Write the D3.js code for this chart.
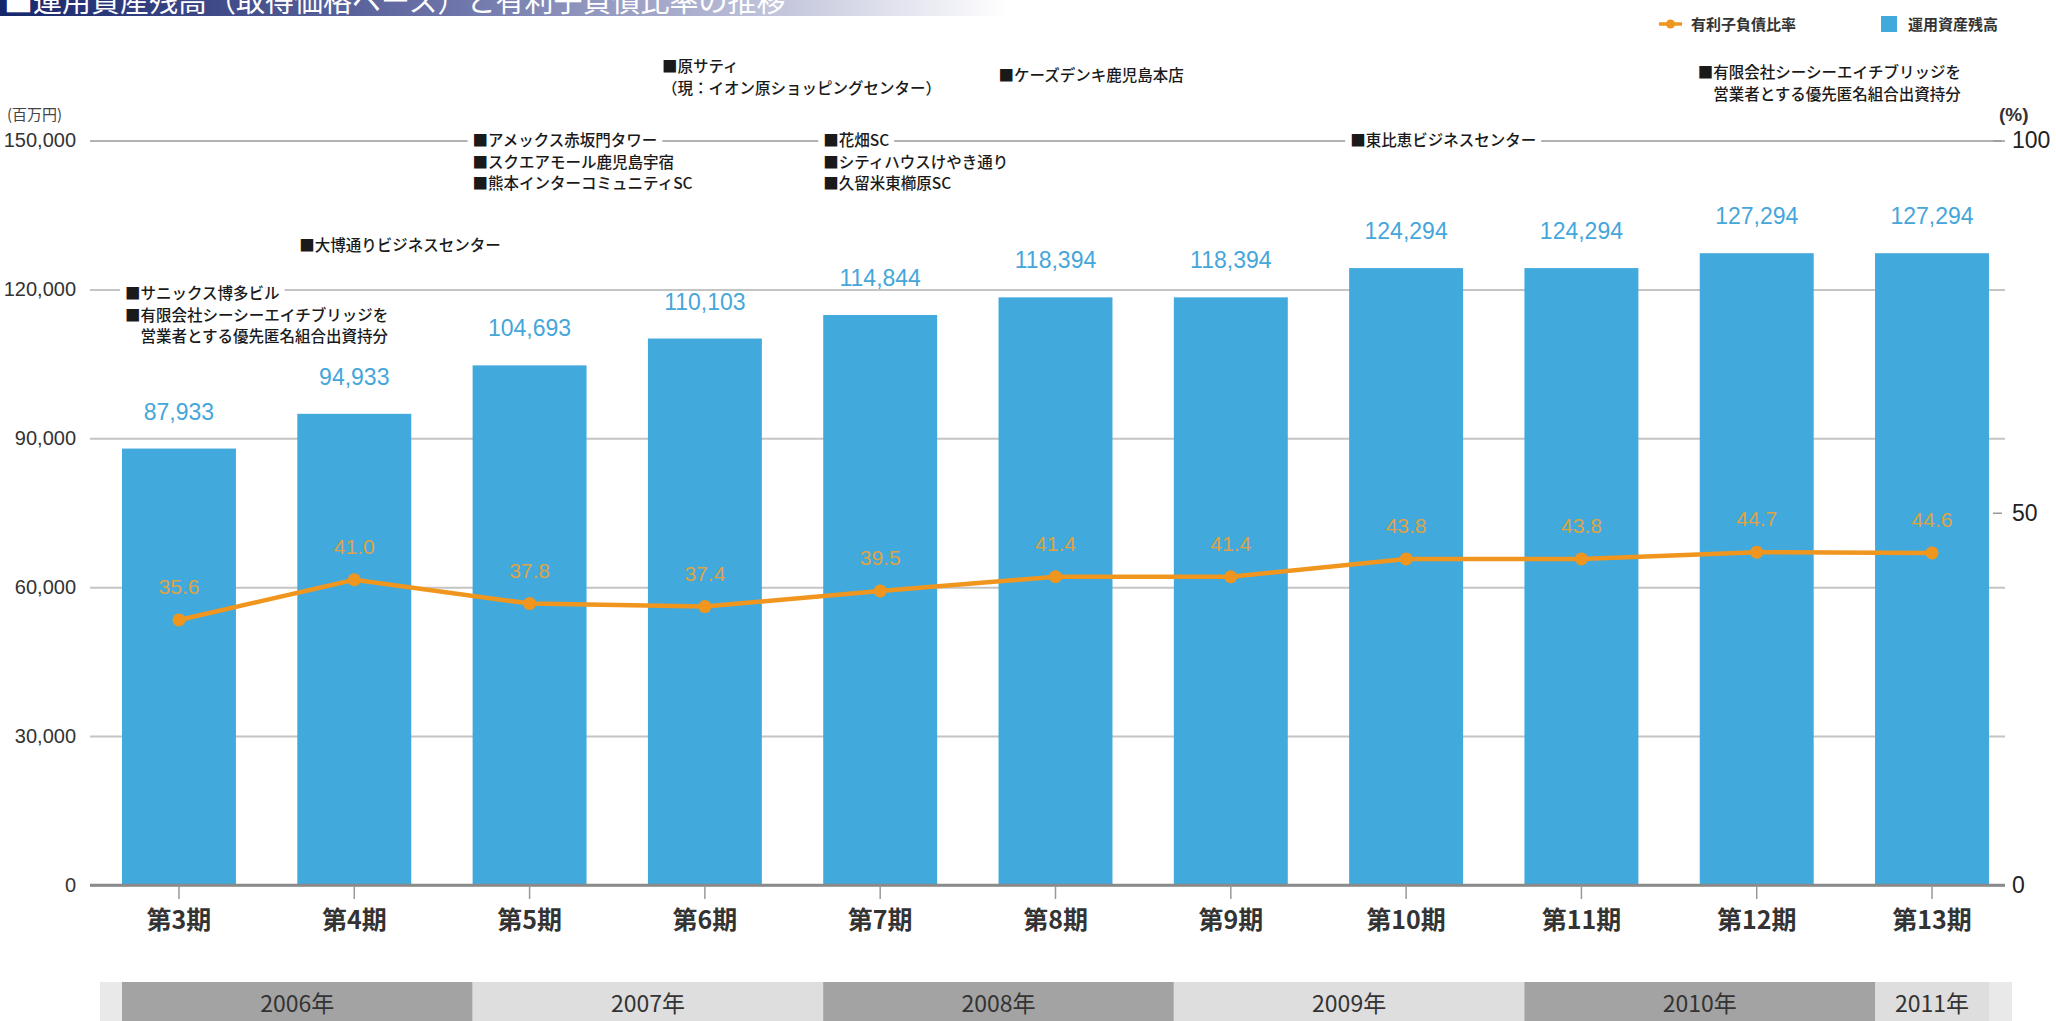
<!DOCTYPE html>
<html>
<head>
<meta charset="utf-8">
<script src="https://cdn.jsdelivr.net/npm/d3@7"></script>
<style>
  body { margin: 0; background: #fff; overflow: hidden; }
  svg { display: block; }
  .jp { font-family: "Noto Sans CJK JP", "Noto Sans", sans-serif; }
  .num { font-family: "Liberation Sans", Arial, sans-serif; }
</style>
</head>
<body>
<div id="chart"></div>
<script>
// data
var periods = ["第3期", "第4期", "第5期", "第6期", "第7期", "第8期", "第9期", "第10期", "第11期", "第12期", "第13期"];
var assets = [87933, 94933, 104693, 110103, 114844, 118394, 118394, 124294, 124294, 127294, 127294];
var debtRatio = [35.6, 41.0, 37.8, 37.4, 39.5, 41.4, 41.4, 43.8, 43.8, 44.7, 44.6];
var leftTicks = [0, 30000, 60000, 90000, 120000, 150000];
var rightTicks = [0, 50, 100];
var years = ["2006年", "2007年", "2008年", "2009年", "2010年", "2011年"];
var yearFirst = [0, 2, 4, 6, 8, 10];   // first period of each year
var yearLast = [1, 3, 5, 7, 9, 10];    // last period of each year
var acqPeriods = [0, 1, 2, 3, 4, 5, 7, 9];
var acqNames = [
    ["■サニックス博多ビル", "■有限会社シーシーエイチブリッジを", "　営業者とする優先匿名組合出資持分"],
    ["■大博通りビジネスセンター"],
    ["■アメックス赤坂門タワー", "■スクエアモール鹿児島宇宿", "■熊本インターコミュニティSC"],
    ["■原サティ", "（現：イオン原ショッピングセンター）"],
    ["■花畑SC", "■シティハウスけやき通り", "■久留米東櫛原SC"],
    ["■ケーズデンキ鹿児島本店"],
    ["■東比恵ビジネスセンター"],
    ["■有限会社シーシーエイチブリッジを", "　営業者とする優先匿名組合出資持分"]
];
var title = "■運用資産残高（取得価格ベース）と有利子負債比率の推移";

// layout of the annotation blocks (baseline of first row, shift from bar edge)
var acqTop = [299, 251, 146, 72, 146, 81, 146, 78];
var acqDx = [3, 2, 0, 14, 0, 0, 1, -2];

var blue = "#42a9dd", orange = "#f0961e";

function createChart(divId) {
    var w = 2056, h = 1021;
    var svg = d3.select(divId).append("svg")
        .attr("width", w)
        .attr("height", h);

    var x = d3.scaleBand()
        .domain(periods)
        .range([122, 1989])
        .paddingInner(0.35)
        .paddingOuter(0);

    var y = d3.scaleLinear().domain([0, 150000]).range([885, 140.5]);
    var y2 = d3.scaleLinear().domain([0, 100]).range([885, 140.5]);

    var gridL = 90, gridR = 2005;

    // title bar
    var grad = svg.append("defs").append("linearGradient")
        .attr("id", "tgrad");
    grad.append("stop").attr("offset", 0).attr("stop-color", "#16266b");
    grad.append("stop").attr("offset", 0.45).attr("stop-color", "#6d74a9");
    grad.append("stop").attr("offset", 1).attr("stop-color", "#ffffff");
    svg.append("rect")
        .attr("x", 0).attr("y", 0)
        .attr("width", 1010).attr("height", 16)
        .attr("fill", "url(#tgrad)");
    svg.append("text")
        .attr("class", "jp")
        .attr("x", 4).attr("y", 12)
        .attr("fill", "#fff")
        .style("font-size", "29px")
        .text(title);

    // left axis + grid
    var gl = svg.append("g")
        .attr("transform", "translate(" + gridL + ",0)")
        .call(d3.axisLeft(y).tickValues(leftTicks).tickFormat(d3.format(",")).tickSize(-(gridR - gridL)).tickPadding(14));
    gl.select(".domain").remove();
    gl.selectAll(".tick line")
        .attr("stroke", function(d) { return d == 150000 ? "#999" : (d == 0 ? "#8a8a8a" : "#c4c4c4"); })
        .attr("stroke-width", function(d) { return d == 150000 ? 1.5 : (d == 0 ? 2.5 : 2); });
    gl.selectAll(".tick text")
        .attr("class", "num")
        .attr("fill", "#333")
        .style("font-size", "20px");

    svg.append("text")
        .attr("class", "jp")
        .attr("x", 7).attr("y", 120)
        .attr("fill", "#444")
        .style("font-size", "15px")
        .text("(百万円)");

    // right axis
    var gr = svg.append("g")
        .attr("transform", "translate(1993,0)")
        .call(d3.axisRight(y2).tickValues(rightTicks).tickSize(9).tickPadding(10));
    gr.select(".domain").remove();
    gr.selectAll(".tick line").attr("stroke", "#999").attr("stroke-width", 1.5);
    gr.selectAll(".tick text")
        .attr("class", "num")
        .attr("fill", "#222")
        .style("font-size", "23px");
    svg.append("text")
        .attr("class", "num")
        .attr("x", 1999).attr("y", 121)
        .attr("fill", "#333")
        .style("font-size", "19px")
        .style("font-weight", "bold")
        .text("(%)");

    // bars
    svg.selectAll(".bar")
        .data(assets)
        .enter().append("rect")
        .attr("class", "bar")
        .attr("x", function(d, i) { return x(periods[i]); })
        .attr("y", function(d) { return y(d); })
        .attr("width", x.bandwidth())
        .attr("height", function(d) { return y(0) - y(d); })
        .attr("fill", blue);

    // redraw baseline over the bars
    svg.append("line")
        .attr("x1", gridL).attr("x2", gridR)
        .attr("y1", y(0)).attr("y2", y(0))
        .attr("stroke", "#8a8a8a").attr("stroke-width", 2.5);

    svg.selectAll(".barlabel")
        .data(assets)
        .enter().append("text")
        .attr("class", "num")
        .attr("x", function(d, i) { return x(periods[i]) + x.bandwidth() / 2; })
        .attr("y", function(d) { return y(d) - 29; })
        .attr("text-anchor", "middle")
        .attr("fill", "#45a6da")
        .style("font-size", "23px")
        .text(d3.format(","));

    // x axis ticks + labels
    var gx = svg.append("g")
        .attr("transform", "translate(0," + (y(0) + 1) + ")")
        .call(d3.axisBottom(x).tickSize(13).tickPadding(12));
    gx.select(".domain").remove();
    gx.selectAll(".tick line").attr("stroke", "#999").attr("stroke-width", 1.5);
    gx.selectAll(".tick text")
        .attr("class", "jp")
        .attr("fill", "#333")
        .style("font-size", "25px")
        .style("font-weight", "bold");

    // debt ratio line
    var line = d3.line()
        .x(function(d, i) { return x(periods[i]) + x.bandwidth() / 2; })
        .y(function(d) { return y2(d); });
    svg.append("path")
        .datum(debtRatio)
        .attr("d", line)
        .attr("fill", "none")
        .attr("stroke", orange)
        .attr("stroke-width", 4.5);
    svg.selectAll(".dot")
        .data(debtRatio)
        .enter().append("circle")
        .attr("cx", function(d, i) { return x(periods[i]) + x.bandwidth() / 2; })
        .attr("cy", function(d) { return y2(d); })
        .attr("r", 6.5)
        .attr("fill", orange);
    svg.selectAll(".ratiolabel")
        .data(debtRatio)
        .enter().append("text")
        .attr("class", "num")
        .attr("x", function(d, i) { return x(periods[i]) + x.bandwidth() / 2; })
        .attr("y", function(d) { return y2(d) - 26; })
        .attr("text-anchor", "middle")
        .attr("fill", "#dfa343")
        .style("font-size", "21px")
        .text(d3.format(".1f"));

    // acquisitions
    acqNames.forEach(function(rows, k) {
        var x0 = x(periods[acqPeriods[k]]) + acqDx[k];
        rows.forEach(function(t, j) {
            var g = svg.append("g");
            var txt = g.append("text")
                .attr("class", "jp")
                .attr("x", x0)
                .attr("y", acqTop[k] + j * 21.5)
                .attr("fill", "#1a1a1a")
                .style("font-size", "15.5px")
                .style("font-weight", "500")
                .text(t);
            var bb = txt.node().getBBox();
            g.insert("rect", "text")
                .attr("x", bb.x - 5).attr("y", bb.y)
                .attr("width", bb.width + 10).attr("height", bb.height)
                .attr("fill", "#fff");
        });
    });

    // legend
    var lg = svg.append("g").attr("transform", "translate(1659,24)");
    lg.append("line").attr("x1", 0).attr("x2", 23).attr("y1", 0).attr("y2", 0)
        .attr("stroke", orange).attr("stroke-width", 3.5);
    lg.append("circle").attr("cx", 11.5).attr("cy", 0).attr("r", 4.5).attr("fill", orange);
    lg.append("text").attr("class", "jp").attr("x", 32).attr("y", 6)
        .attr("fill", "#333").style("font-size", "15px").style("font-weight", "bold")
        .text("有利子負債比率");
    lg.append("rect").attr("x", 222).attr("y", -8).attr("width", 16).attr("height", 16).attr("fill", blue);
    lg.append("text").attr("class", "jp").attr("x", 249).attr("y", 6)
        .attr("fill", "#333").style("font-size", "15px").style("font-weight", "bold")
        .text("運用資産残高");

    // year band
    svg.append("rect")
        .attr("x", 100).attr("y", 982)
        .attr("width", 1912).attr("height", 45)
        .attr("fill", "#e9e9e9");
    var yb = svg.selectAll(".year")
        .data(years)
        .enter().append("g")
        .attr("class", "year");
    function yx0(i) { return x(periods[yearFirst[i]]); }
    function yx1(i) {
        var n = yearLast[i] + 1;
        return n < periods.length ? x(periods[n]) : x(periods[yearLast[i]]) + x.bandwidth();
    }
    yb.append("rect")
        .attr("x", function(d, i) { return yx0(i); })
        .attr("y", 982)
        .attr("width", function(d, i) { return yx1(i) - yx0(i); })
        .attr("height", 45)
        .attr("fill", function(d, i) { return i % 2 == 0 ? "#a3a3a3" : "#dedede"; });
    yb.append("text")
        .attr("class", "jp")
        .attr("x", function(d, i) { return (yx0(i) + yx1(i)) / 2; })
        .attr("y", 1012)
        .attr("text-anchor", "middle")
        .attr("fill", "#333")
        .style("font-size", "23px")
        .text(function(d) { return d; });

    return svg;
}

createChart("#chart");
</script>
</body>
</html>
